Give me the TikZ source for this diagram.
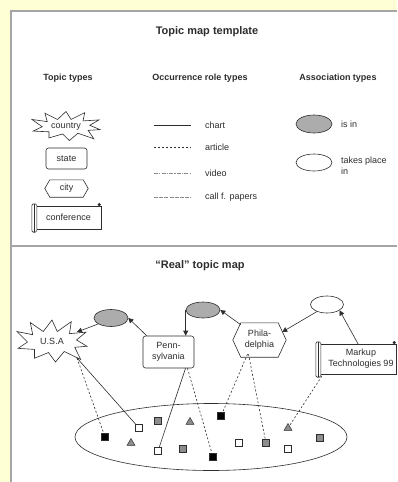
\documentclass[tikz,border=0pt]{standalone}
\usepackage{fontspec}
\setmainfont{Liberation Sans}
\usetikzlibrary{arrows.meta,calc,shapes.geometric}

\definecolor{pageyellow}{RGB}{255,255,214}
\definecolor{framegray}{RGB}{165,165,165}
\definecolor{assocgray}{RGB}{172,172,172}
\definecolor{markgray}{RGB}{140,140,140}
\definecolor{inkgray}{RGB}{45,45,45}

% outline of a scroll (rolled left edge, curl top right) around a node
\newcommand\drawscroll[1]{%
  \draw[shapeline] (#1.north west) rectangle (#1.south east);
  \draw[shapeline, fill=white, rounded corners=1.5pt]
    ($(#1.north west)+(-4,-2)$) rectangle ($(#1.south west)+(1,3)$);
  \draw[shapeline] ($(#1.north west)+(-1.5,-2)$) -- ($(#1.south west)+(-1.5,3)$);
  \fill[inkgray] ($(#1.north east)+(-2,-1.2)$) circle (1.7);
}
% elongated hexagon around a node, #2 = depth of the side points
\newcommand\drawhex[2]{%
  \draw[shapeline] (#1.west) -- ($(#1.north west)+(#2,0)$) -- ($(#1.north east)+(-#2,0)$)
    -- (#1.east) -- ($(#1.south east)+(-#2,0)$) -- ($(#1.south west)+(#2,0)$) -- cycle;
}

\tikzset{
  shapeline/.style={draw=inkgray, line width=0.6pt},
  explosion/.pic={
    \draw[shapeline, fill=white]
      (-1.00,-0.45) -- (-0.55,-0.30) -- (-0.62,-0.88) -- (-0.25,-0.45) -- (0.00,-1.00)
      -- (0.15,-0.45) -- (0.55,-0.92) -- (0.50,-0.35) -- (0.97,-0.42) -- (0.70,-0.05)
      -- (1.00,0.25) -- (0.65,0.30) -- (0.82,0.88) -- (0.35,0.50) -- (0.10,1.00)
      -- (-0.10,0.55) -- (-0.50,0.82) -- (-0.50,0.40) -- (-0.97,0.35) -- (-0.70,0.05)
      -- cycle;
  },
  txt/.style={font=\fontsize{9}{11}\selectfont, text=inkgray, align=center, inner sep=0},
  heading/.style={font=\fontsize{9}{11}\selectfont\bfseries, text=inkgray, inner sep=0},
  titletext/.style={font=\fontsize{11}{13}\selectfont\bfseries, text=inkgray, inner sep=0},
  topicbox/.style={txt, rectangle, rounded corners=2.5pt, draw=inkgray, line width=0.6pt, fill=white},
  plainbox/.style={txt, rectangle},
  assocfilled/.style={ellipse, draw=inkgray, line width=0.6pt, fill=assocgray, inner sep=0},
  assocopen/.style={ellipse, draw=inkgray, line width=0.6pt, fill=white, inner sep=0},
  sqmark/.style={rectangle, draw=inkgray, line width=0.6pt, minimum size=6.5pt, inner sep=0},
  sqblack/.style={sqmark, fill=black},
  sqwhite/.style={sqmark, fill=white},
  sqgray/.style={sqmark, fill=markgray},
  trimark/.style={regular polygon, regular polygon sides=3, draw=inkgray, line width=0.5pt,
    fill=markgray, minimum size=9pt, inner sep=0},
  chartline/.style={draw=inkgray, line width=0.6pt},
  articleline/.style={draw=inkgray, line width=0.6pt, dash pattern=on 2pt off 2pt},
  videoline/.style={draw=black!45, line width=0.6pt, dash pattern=on 4pt off 1.2pt on 1.2pt off 1.2pt},
  cfpline/.style={draw=black!45, line width=0.6pt, dash pattern=on 4pt off 1.2pt},
  assocarrow/.style={draw=inkgray, line width=0.6pt, -{Triangle[length=5pt,width=5pt]}},
}

\begin{document}
\begin{tikzpicture}[x=1pt, y=-1pt]
  \useasboundingbox (0,0) rectangle (397,482);
  % page and white panel
  \fill[pageyellow] (0,0) rectangle (397,482);
  \fill[white] (10,10) rectangle (397,482);
  \draw[framegray, line width=2pt] (11,482) -- (11,11) -- (397,11);
  \draw[framegray, line width=2pt] (11,246) -- (397,246);

  % ---------------- template ----------------
  \node[titletext] (ttl) at (207,32) {Topic map template};
  \node[heading] (hTopic) at (68,78) {Topic types};
  \node[heading] (hOcc) at (200,78) {Occurrence role types};
  \node[heading] (hAssoc) at (338,78) {Association types};

  % topic types
  \pic[xscale=34, yscale=14.5] at (66,126) {explosion};
  \node[plainbox] (country) at (66,126.5) {country};
  \node[topicbox, minimum width=41pt, minimum height=21pt] (state) at (66.5,158.5) {state};
  \node[plainbox, minimum width=43pt, minimum height=17pt] (city) at (66.5,188.5) {};
  \drawhex{city}{5}
  \node[txt] at (city) {city};
  \node[plainbox, minimum width=65pt, minimum height=23pt] (conf) at (68.5,217.5) {};
  \drawscroll{conf}
  \node[txt] at (conf) {conference};

  % occurrence role types
  \draw[chartline] (154,125) -- (191,125);
  \draw[articleline] (154,147) -- (191,147);
  \draw[videoline] (154,173) -- (191,173);
  \draw[cfpline] (154,197) -- (191,197);
  \node[txt, anchor=west] (lChart) at (205,125) {chart};
  \node[txt, anchor=west] (lArticle) at (205,147) {article};
  \node[txt, anchor=west] (lVideo) at (205,173) {video};
  \node[txt, anchor=west] (lCfp) at (205,197) {call f. papers};

  % association types
  \node[assocfilled, minimum width=36pt, minimum height=18pt] (tIsIn) at (314,124) {};
  \node[assocopen, minimum width=36pt, minimum height=17pt] (tPlace) at (314,162.5) {};
  \node[txt, anchor=west] (lIsIn) at (341,124) {is in};
  \node[txt, anchor=west, align=left] (lPlace) at (341,166) {takes place\\in};

  % ---------------- real topic map ----------------
  \node[titletext] (ttl2) at (200,266) {“Real” topic map};

  % occurrence pool
  \node[ellipse, draw=inkgray, line width=0.6pt, minimum width=272pt, minimum height=67pt, inner sep=0]
    (pool) at (211,437) {};

  % topics
  \pic[xscale=35, yscale=21] at (52,341) {explosion};
  \node[plainbox, minimum width=50pt, minimum height=26pt] (usa) at (52,341) {U.S.A};
  \coordinate (usaNE) at (77,332);
  \coordinate (usaSE) at (77,358);
  \node[topicbox, minimum width=51pt, minimum height=32pt] (penn) at (168.5,352) {Penn-\\sylvania};
  \node[plainbox, minimum width=53pt, minimum height=34pt] (phil) at (259.5,340) {};
  \drawhex{phil}{8}
  \node[txt] at (phil) {Phila-\\delphia};
  \node[plainbox, minimum width=76pt, minimum height=30pt] (markup) at (358,359) {};
  \drawscroll{markup}
  \node[txt] at (361,359) {Markup\\Technologies 99};

  % associations
  \node[assocfilled, minimum width=34pt, minimum height=17pt] (inA) at (111,318) {};
  \node[assocfilled, minimum width=34pt, minimum height=16pt] (inB) at (203,310) {};
  \node[assocopen, minimum width=33pt, minimum height=17pt] (place) at (327,304.5) {};

  \draw[assocarrow] (inA.205) -- (usaNE);
  \draw[assocarrow] ($(penn.north west)+(4,0)$) -- (inA.east);
  \draw[assocarrow] (inB.west) -- (inB.west |- penn.north);
  \draw[assocarrow] ($(phil.north west)+(8,2)$) -- (inB.east);
  \draw[assocarrow] (place.215) -- ($(phil.east)+(-4,-8)$);
  \draw[assocarrow] (markup.north) -- (place.-25);

  % occurrence markers: positions first, links, then the markers on top
  \coordinate (p1) at (105,437);
  \coordinate (p2) at (139,428);
  \coordinate (p5) at (221,416);
  \coordinate (p6) at (288,428);
  \coordinate (p9) at (158,451);
  \coordinate (p11) at (213,457);
  \coordinate (p13) at (266,443);

  \draw[articleline] (usaSE) -- (p1);
  \draw[chartline] (usaSE) -- (p2);
  \draw[chartline] ($(penn.south)+(17,0)$) -- (p9);
  \draw[articleline] ($(penn.south)+(19,0)$) -- (p11);
  \draw[articleline] ($(phil.south)+(-12,-3)$) -- (p5);
  \draw[articleline] ($(phil.south)+(-11,-3)$) -- (p13);
  \draw[articleline] ($(markup.south west)+(2,2)$) -- (p6);

  \node[sqblack] (o1) at (p1) {};
  \node[sqwhite] (o2) at (p2) {};
  \node[sqgray] (o3) at (158,421) {};
  \node[trimark] (o4) at (190,422) {};
  \node[sqblack] (o5) at (p5) {};
  \node[trimark] (o6) at (p6) {};
  \node[sqgray] (o7) at (320,438) {};
  \node[trimark] (o8) at (131,443) {};
  \node[sqwhite] (o9) at (p9) {};
  \node[sqgray] (o10) at (183,449) {};
  \node[sqblack] (o11) at (p11) {};
  \node[sqwhite] (o12) at (239,443) {};
  \node[sqgray] (o13) at (p13) {};
  \node[sqwhite] (o14) at (288,449) {};
\end{tikzpicture}
\end{document}
